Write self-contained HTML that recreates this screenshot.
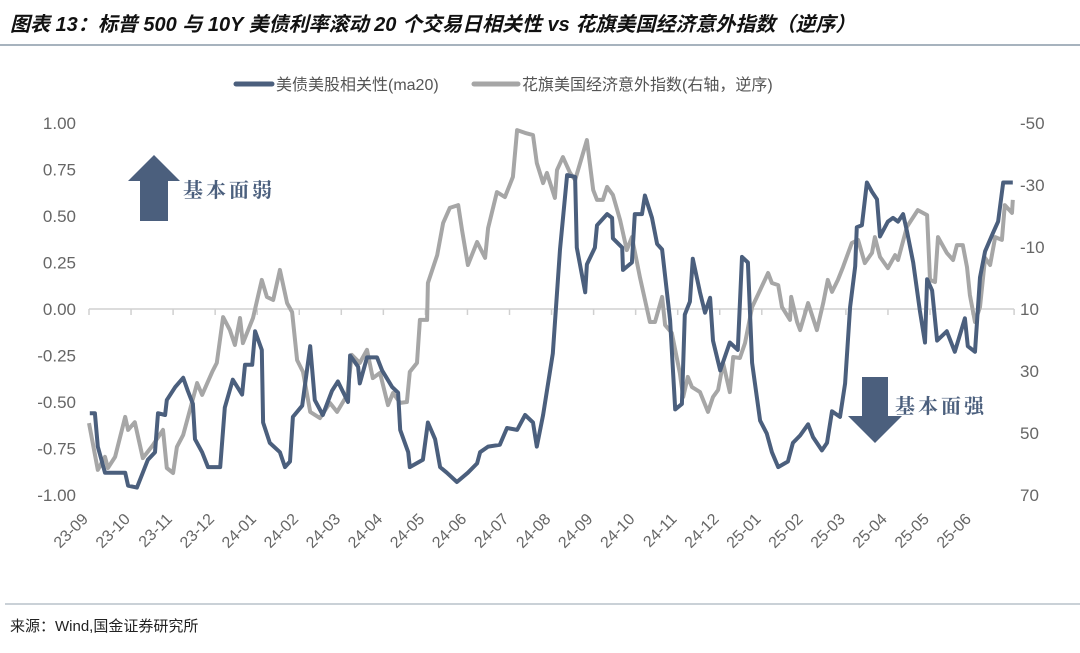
<!DOCTYPE html>
<html><head><meta charset="utf-8">
<style>
body{margin:0;background:#fff;}
svg text{font-family:"Liberation Sans","Noto Sans CJK SC",sans-serif;}
</style></head>
<body>
<svg id="chart" width="1080" height="648" viewBox="0 0 1080 648" xmlns="http://www.w3.org/2000/svg">
<text x="10" y="31" font-size="20" font-style="italic" font-weight="bold" fill="#111" style="font-family:'Liberation Sans','Noto Sans CJK SC',sans-serif">图表 13：标普 500 与 10Y 美债利率滚动 20 个交易日相关性 vs 花旗美国经济意外指数（逆序）</text>
<line x1="0" y1="45" x2="1080" y2="45" stroke="#8a9aa8" stroke-width="1.5"/>
<g>
<line x1="236" y1="84" x2="272" y2="84" stroke="#4b5f7d" stroke-width="5" stroke-linecap="round"/>
<text x="276" y="90" font-size="16" fill="#555">美债美股相关性(ma20)</text>
<line x1="474" y1="84" x2="518" y2="84" stroke="#a6a6a6" stroke-width="5" stroke-linecap="round"/>
<text x="522" y="90" font-size="16" fill="#555">花旗美国经济意外指数(右轴，逆序)</text>
</g>
<g id="axes"></g>
<g id="series"></g>
<g>
<polygon points="154,155 180,181 168,181 168,221 140,221 140,181 128,181" fill="#4b5f7d"/>
<text x="183" y="197" font-size="20" font-weight="bold" fill="#4b5f7d" letter-spacing="3" style="font-family:'Noto Serif CJK SC',serif">基本面弱</text>
</g>
<g>
<polygon points="862,377 888,377 888,416 902,416 875,443 848,416 862,416" fill="#4b5f7d"/>
<text x="895" y="413" font-size="20" font-weight="bold" fill="#4b5f7d" letter-spacing="3" style="font-family:'Noto Serif CJK SC',serif">基本面强</text>
</g>
<line x1="5" y1="604" x2="1080" y2="604" stroke="#b8c2ca" stroke-width="1.5"/>
<text x="10" y="631" font-size="15" fill="#222">来源：Wind,国金证券研究所</text>
</svg>
<script>
const monthLabels=["23-09","23-10","23-11","23-12","24-01","24-02","24-03","24-04","24-05","24-06","24-07","24-08","24-09","24-10","24-11","24-12","25-01","25-02","25-03","25-04","25-05","25-06"];
const leftTicks=[1,0.75,0.5,0.25,0,-0.25,-0.5,-0.75,-1];
const rightTicks=[-50,-30,-10,10,30,50,70];
const corrT=[0.02,0.14,0.21,0.38,0.67,0.86,0.93,1.14,1.28,1.40,1.57,1.64,1.81,1.85,2.05,2.24,2.35,2.47,2.52,2.69,2.83,3.12,3.23,3.42,3.64,3.71,3.88,3.95,4.11,4.14,4.30,4.54,4.66,4.78,4.85,5.07,5.26,5.37,5.56,5.78,5.92,6.16,6.21,6.40,6.44,6.61,6.85,6.97,7.21,7.35,7.40,7.59,7.63,7.94,8.06,8.23,8.35,8.51,8.75,9.01,9.23,9.30,9.49,9.77,9.94,10.18,10.37,10.56,10.65,10.80,11.03,11.20,11.37,11.56,11.60,11.80,11.84,12.03,12.08,12.32,12.44,12.46,12.68,12.70,12.91,12.98,13.15,13.22,13.39,13.51,13.63,13.82,13.94,14.10,14.17,14.29,14.36,14.53,14.65,14.77,14.84,15.01,15.24,15.43,15.53,15.67,15.77,15.96,16.12,16.24,16.39,16.62,16.74,16.91,17.10,17.22,17.43,17.55,17.67,17.86,17.98,18.10,18.22,18.26,18.38,18.50,18.62,18.74,18.81,19.00,19.12,19.24,19.36,19.45,19.60,19.76,19.88,19.93,20.05,20.17,20.40,20.59,20.83,20.90,21.07,21.19,21.31,21.50,21.62,21.74,21.97];
const corrV=[-0.56,-0.56,-0.74,-0.88,-0.88,-0.88,-0.95,-0.96,-0.88,-0.81,-0.77,-0.56,-0.57,-0.49,-0.42,-0.37,-0.44,-0.51,-0.70,-0.77,-0.85,-0.85,-0.53,-0.38,-0.46,-0.30,-0.30,-0.12,-0.22,-0.61,-0.72,-0.77,-0.85,-0.82,-0.58,-0.52,-0.20,-0.49,-0.57,-0.44,-0.39,-0.50,-0.25,-0.31,-0.40,-0.26,-0.26,-0.33,-0.42,-0.45,-0.65,-0.77,-0.85,-0.81,-0.61,-0.70,-0.85,-0.88,-0.93,-0.88,-0.83,-0.77,-0.74,-0.73,-0.64,-0.65,-0.57,-0.61,-0.74,-0.57,-0.24,0.32,0.72,0.71,0.33,0.09,0.24,0.33,0.45,0.51,0.49,0.38,0.33,0.21,0.25,0.51,0.51,0.61,0.49,0.35,0.32,-0.06,-0.54,-0.51,-0.03,0.04,0.27,0.09,-0.02,0.06,-0.17,-0.33,-0.18,-0.22,0.28,0.25,-0.29,-0.60,-0.67,-0.77,-0.85,-0.82,-0.72,-0.68,-0.62,-0.69,-0.76,-0.72,-0.55,-0.58,-0.40,0.01,0.23,0.44,0.45,0.68,0.63,0.59,0.39,0.47,0.49,0.47,0.51,0.42,0.25,-0.01,-0.18,0.16,0.10,-0.17,-0.12,-0.23,-0.05,-0.20,-0.23,0.17,0.31,0.41,0.47,0.68,0.68];
const citiT=[0,0.21,0.38,0.45,0.62,0.86,0.93,1.09,1.28,1.52,1.76,1.85,2.00,2.09,2.24,2.40,2.57,2.69,2.93,3.04,3.19,3.35,3.47,3.59,3.66,3.90,4.11,4.23,4.38,4.54,4.71,4.83,4.95,5.09,5.26,5.49,5.73,5.90,6.14,6.25,6.44,6.61,6.75,6.92,7.11,7.23,7.40,7.56,7.63,7.80,7.87,8.04,8.06,8.28,8.42,8.58,8.78,8.87,9.01,9.23,9.42,9.49,9.70,9.89,10.08,10.18,10.37,10.56,10.65,10.80,10.89,11.08,11.13,11.27,11.44,11.56,11.84,11.99,12.08,12.22,12.32,12.46,12.63,12.79,12.91,13.10,13.34,13.46,13.63,13.70,13.86,14.05,14.13,14.24,14.34,14.53,14.72,14.84,14.96,15.08,15.24,15.32,15.48,15.60,15.77,15.96,16.15,16.24,16.39,16.48,16.67,16.70,16.84,16.91,17.10,17.31,17.46,17.57,17.67,17.81,17.93,18.14,18.29,18.45,18.62,18.69,18.81,19.00,19.17,19.24,19.45,19.71,19.93,20.00,20.12,20.19,20.40,20.55,20.64,20.78,20.88,20.95,21.07,21.19,21.31,21.43,21.55,21.71,21.78,21.95,21.97];
const citiV=[46.8,61.9,57.7,61.3,57.7,44.8,49.0,46.5,58.1,53.9,49.0,61.3,62.9,54.5,50.6,42.6,33.9,37.7,30.3,27.4,12.6,16.8,21.6,12.9,21.0,12.9,0.6,6.1,7.1,-2.6,8.1,11.0,26.5,30.3,43.2,45.2,40.3,43.2,37.7,24.8,27.4,23.2,32.3,30.6,41.0,37.1,40.3,40.0,30.3,27.4,13.5,13.5,1.6,-7.4,-17.7,-22.6,-23.5,-15.5,-4.2,-11.6,-6.5,-16.1,-27.7,-26.1,-32.6,-47.7,-46.8,-46.1,-37.1,-30.6,-33.9,-25.8,-34.8,-39.0,-33.9,-31.6,-44.5,-28.4,-25.2,-25.2,-29.4,-26.8,-18.7,-9.0,-13.2,-0.3,14.2,14.2,6.1,15.2,17.7,30.6,38.4,31.9,35.2,36.8,43.2,38.4,36.1,27.4,36.8,25.5,25.8,21.0,9.4,3.9,-1.6,1.6,2.3,9.4,13.5,6.1,14.2,16.8,8.1,16.8,8.1,0.6,4.5,0.6,-3.5,-11.3,-12.3,-4.8,-8.1,-13.2,-6.8,-3.2,-7.4,-5.8,-16.5,-21.9,-20.3,0.6,1.3,-13.2,-8.1,-5.8,-10.6,-10.6,-3.5,5.5,14.2,9.4,-6.5,-4.2,-13.2,-12.3,-23.5,-21.0,-25.2];

const NS="http://www.w3.org/2000/svg";
const X0=89,MW=42.05,YT=123,YB=495;
function xS(m){return X0+m*MW;}
function yL(v){return YT+(1-v)/2*(YB-YT);}
function yR(v){return YT+(v+50)/120*(YB-YT);}
const axes=document.getElementById('axes');
const series=document.getElementById('series');
function mk(tag,attrs,parent){const e=document.createElementNS(NS,tag);for(const k in attrs)e.setAttribute(k,attrs[k]);parent.appendChild(e);return e;}
const zl=mk('line',{x1:xS(0),x2:xS(monthLabels.length),y1:yL(0),y2:yL(0),stroke:'#d0d0d0','stroke-width':1.5},axes);


for(let i=0;i<=monthLabels.length;i++){
  const t=mk('line',{x1:xS(i),x2:xS(i),y1:yL(0),y2:yL(0)+6,stroke:'#d0d0d0','stroke-width':1.5},axes);
  
  
}
monthLabels.forEach((lab,i)=>{
  const x=xS(i),y=520;
  const t=mk('text',{x:x,y:y,'text-anchor':'end','font-size':16,fill:'#666',transform:`rotate(-45 ${x} ${y})`},axes);
  t.textContent=lab;
  
  
});
leftTicks.forEach(v=>{
  const t=mk('text',{x:76,y:yL(v)+6,'text-anchor':'end','font-size':17,fill:'#666'},axes);
  t.textContent=v.toFixed(2);
  
  
});
rightTicks.forEach(v=>{
  const t=mk('text',{x:1020,y:yR(v)+6,'text-anchor':'start','font-size':17,fill:'#666'},axes);
  t.textContent=String(v);
  
  
});
const citiPts=citiT.map((t,i)=>xS(t).toFixed(1)+','+yR(citiV[i]).toFixed(1)).join(' ');
const citi=mk('polyline',{points:citiPts,fill:'none',stroke:'#a6a6a6','stroke-width':4,'stroke-linejoin':'round'},series);


const corrPts=corrT.map((t,i)=>xS(t).toFixed(1)+','+yL(corrV[i]).toFixed(1)).join(' ');
const corr=mk('polyline',{points:corrPts,fill:'none',stroke:'#4b5f7d','stroke-width':4,'stroke-linejoin':'round'},series);


</script>
</body></html>
